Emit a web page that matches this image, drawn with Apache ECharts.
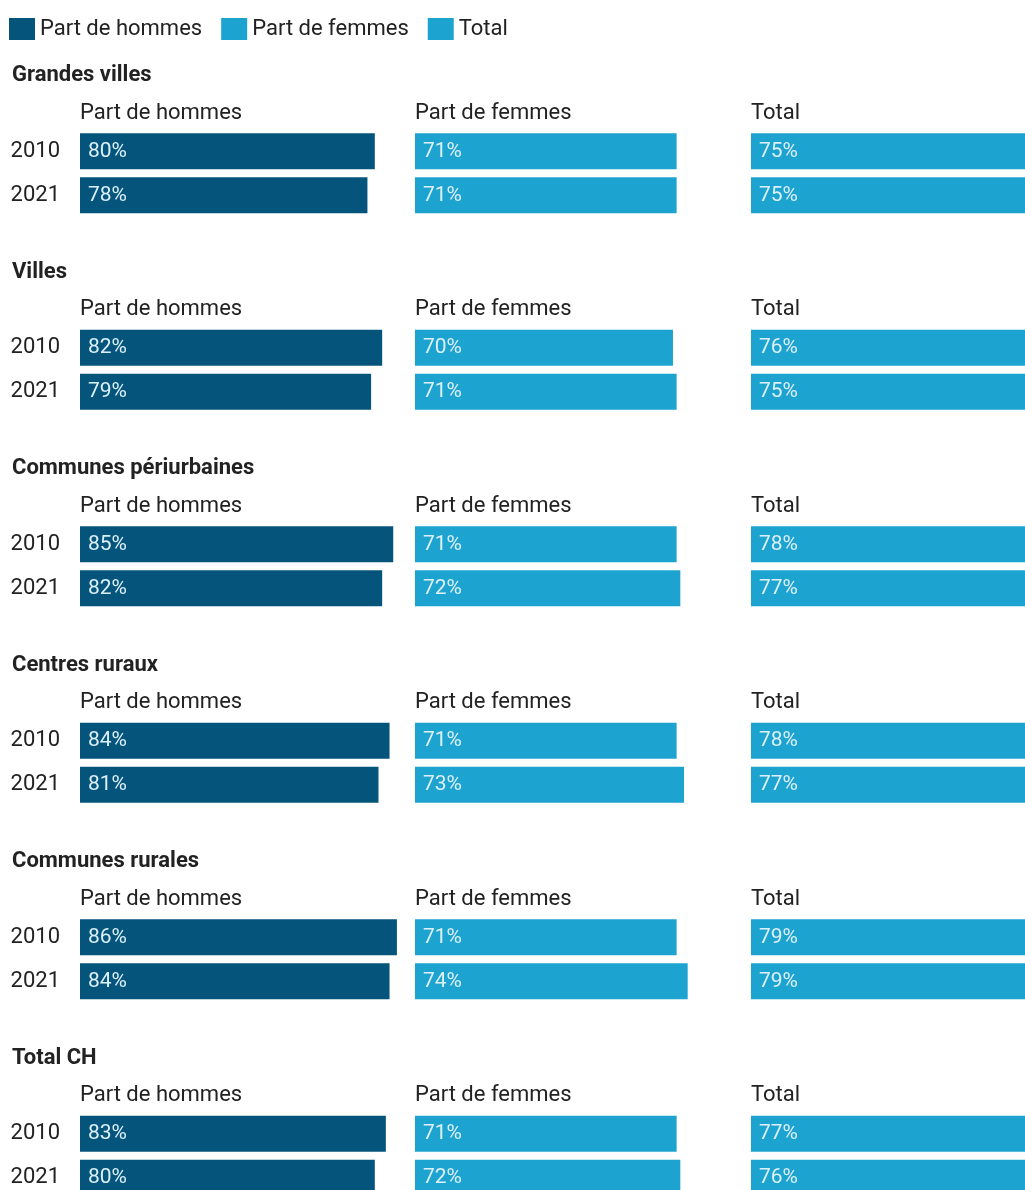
<!DOCTYPE html>
<html>
<head>
<meta charset="utf-8">
<script src="https://cdn.jsdelivr.net/npm/echarts@6/dist/echarts.min.js"></script>
<style>
  html, body { margin: 0; padding: 0; background: #fff; }
  #chart { width: 1025px; height: 1190px; }
</style>
</head>
<body>
<div id="chart"></div>
<script>
// données
var groups = ['Grandes villes', 'Villes', 'Communes périurbaines', 'Centres ruraux', 'Communes rurales', 'Total CH'];
var years = ['2010', '2021'];
var columns = ['Part de hommes', 'Part de femmes', 'Total'];
var hommes = [[80, 78], [82, 79], [85, 82], [84, 81], [86, 84], [83, 80]];
var femmes = [[71, 71], [70, 71], [71, 72], [71, 73], [71, 74], [71, 72]];
var total = [[75, 75], [76, 75], [78, 77], [78, 77], [79, 79], [77, 76]];

var values = [hommes, femmes, total];
var colors = ['#04547c', '#1ca3cf', '#1ca3cf'];

var font = 'Roboto, "Noto Sans", sans-serif';
var W = 1025;
var groupStep = 196.5;
var colLeft = [80, 415, 751];
var colWidth = 368.5; // largeur pour 100 %

var grid = [], xAxis = [], yAxis = [], series = [], graphic = [];

groups.forEach(function (g, gi) {
  var off = gi * groupStep;
  // titre du groupe
  graphic.push({
    type: 'text', x: 12, y: 75.5 + off,
    style: { text: g, fontFamily: font, fontSize: 22, fontWeight: 'bold', fill: '#222',
      verticalAlign: 'middle' }
  });
  columns.forEach(function (c, ci) {
    var idx = grid.length;
    graphic.push({
      type: 'text', x: colLeft[ci], y: 113 + off,
      style: { text: c, fontFamily: font, fontSize: 22, fill: '#222', verticalAlign: 'middle' }
    });
    // la dernière colonne dépasse le bord : on garde la même échelle
    var w = Math.min(colWidth, W - colLeft[ci]);
    grid.push({ left: colLeft[ci], top: 129.3 + off, width: w, height: 88, outerBoundsMode: 'none' });
    xAxis.push({ gridIndex: idx, type: 'value', min: 0, max: 100 * w / colWidth, show: false });
    yAxis.push({
      gridIndex: idx, type: 'category', data: years, inverse: true,
      axisLine: { show: false }, axisTick: { show: false },
      axisLabel: { show: ci === 0, margin: 20, fontFamily: font, fontSize: 22, color: '#222' }
    });
    series.push({
      name: c, type: 'bar', xAxisIndex: idx, yAxisIndex: idx,
      data: values[ci][gi], barWidth: 36, clip: false,
      itemStyle: { color: colors[ci] },
      label: {
        show: true, position: 'insideLeft', distance: 8,
        formatter: '{c}%', fontFamily: font, fontSize: 21, color: '#dcf0f9'
      },
      emphasis: { disabled: true }
    });
  });
});

var chart = echarts.init(document.getElementById('chart'));
chart.setOption({
  backgroundColor: '#fff',
  animation: false,
  textStyle: { fontFamily: font },
  legend: {
    left: 4, top: 13, icon: 'rect',
    itemWidth: 26, itemHeight: 22, itemGap: 19,
    data: columns,
    textStyle: { fontFamily: font, fontSize: 22, color: '#222' }
  },
  grid: grid,
  xAxis: xAxis,
  yAxis: yAxis,
  series: series,
  graphic: graphic
});
</script>
</body>
</html>
